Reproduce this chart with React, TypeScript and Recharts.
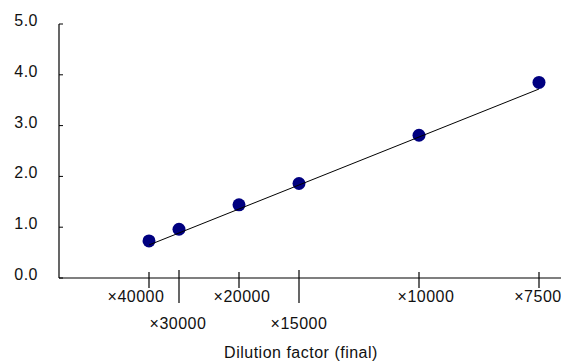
import React from 'react';
import { ScatterChart, Scatter, XAxis, YAxis, Label } from 'recharts';

// dilution factors (final) and their reciprocal, in units of 1e-5
const dilutions = [40000, 30000, 20000, 15000, 10000, 7500];
const inverseDilution = [2.5, 3.3333, 5, 6.6667, 10, 13.3333];
// measured signal for each dilution
const signal = [0.73, 0.96, 1.44, 1.86, 2.81, 3.85];
// fitted line end points (at the first and the last dilution)
const fitX = [2.5, 13.3333];
const fitY = [0.65, 3.72];
const yTicks = [0, 1, 2, 3, 4, 5];

// layout for the staggered x tick labels
const tickRow = [0, 1, 0, 1, 0, 0];
const tickShift = [-13, -1, 3, 0, 7, -1];

const points = dilutions.map((d, i) => ({ x: inverseDilution[i], y: signal[i], d }));
const fitLine = fitX.map((x, i) => ({ x, y: fitY[i] }));

const FONT = '"Liberation Sans", Arial, Helvetica, sans-serif';

const XTick = (props: any) => {
  const { x, y, index } = props;
  const row = tickRow[index] ?? 0;
  const top = row ? y - 8 : y - 6;
  const bottom = row ? y + 25 : y + 10;
  return (
    <g>
      <line x1={x} x2={x} y1={top} y2={bottom} stroke="#000" strokeWidth={1.2} />
      <text
        x={x + (tickShift[index] ?? 0)}
        y={row ? y + 51 : y + 24}
        textAnchor="middle"
        fontFamily={FONT}
        fontSize={16}
        letterSpacing={0.5}
        fill="#111"
      >
        {'×' + dilutions[index]}
      </text>
    </g>
  );
};

const YTick = (props: any) => {
  const { x, y, payload } = props;
  return (
    <g>
      <line x1={x} x2={x + 4} y1={y} y2={y} stroke="#000" strokeWidth={1} />
      <text
        x={x - 21}
        y={y + 2}
        textAnchor="end"
        fontFamily={FONT}
        fontSize={16}
        letterSpacing={0.5}
        fill="#111"
      >
        {Number(payload.value).toFixed(1)}
      </text>
    </g>
  );
};

const Dot = (props: any) => <circle cx={props.cx} cy={props.cy} r={6.5} fill="#000080" />;

export default function App() {
  return (
    <div style={{ position: 'absolute', left: 0, top: 0, width: 561, height: 364, overflow: 'hidden', background: '#fff' }}>
      <ScatterChart width={563} height={364} margin={{ top: 24, right: 0, bottom: 0, left: 0 }}>
        <XAxis
          type="number"
          dataKey="x"
          domain={[0, 14]}
          ticks={inverseDilution}
          interval={0}
          height={86}
          tickSize={0}
          tickMargin={0}
          tickLine={false}
          axisLine={{ stroke: '#000', strokeWidth: 1.2 }}
          tick={<XTick />}
        >
          <Label
            content={({ viewBox }: any) => (
              <text
                x={viewBox.x + viewBox.width / 2 - 10}
                y={viewBox.y + 80}
                textAnchor="middle"
                fontFamily={FONT}
                fontSize={16}
                letterSpacing={0.5}
                fill="#111"
              >
                Dilution factor (final)
              </text>
            )}
          />
        </XAxis>
        <YAxis
          type="number"
          dataKey="y"
          domain={[0, 5]}
          ticks={yTicks}
          interval={0}
          width={59}
          tickSize={0}
          tickMargin={0}
          tickLine={false}
          axisLine={{ stroke: '#000', strokeWidth: 1.2 }}
          tick={<YTick />}
        />
        <Scatter data={points} shape={<Dot />} isAnimationActive={false} />
        <Scatter
          data={fitLine}
          line={{ stroke: '#000', strokeWidth: 1 }}
          shape={() => <g />}
          isAnimationActive={false}
        />
      </ScatterChart>
    </div>
  );
}
